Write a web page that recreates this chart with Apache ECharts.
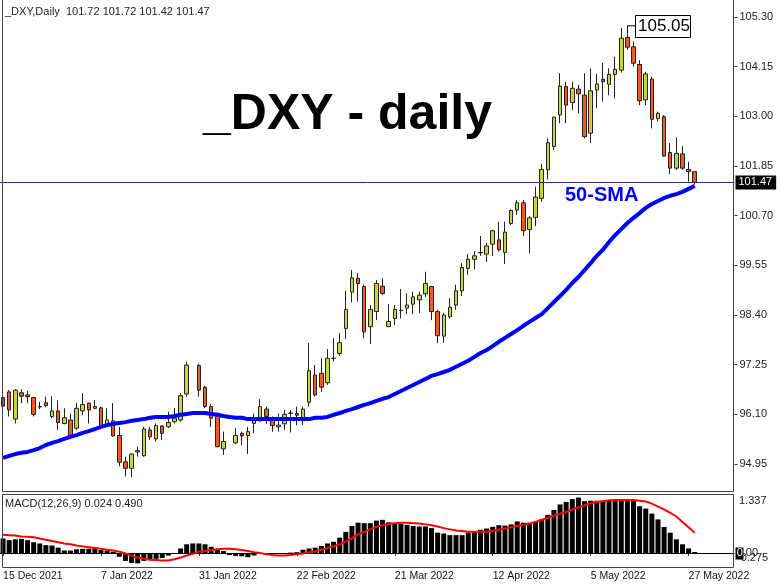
<!DOCTYPE html>
<html>
<head>
<meta charset="utf-8">
<script src="https://cdn.jsdelivr.net/npm/echarts@6/dist/echarts.min.js"></script>
<style>
  html, body { margin: 0; padding: 0; background: #fff; }
  #chart { width: 782px; height: 587px; }
</style>
</head>
<body>
<div id="chart"></div>
<script>
// ---- Daily _DXY bars (null = no bar drawn) ----
const opens = [
  96.49,96.62,95.99,96.60,96.55,96.49,96.28,96.37,96.05,96.18,
  95.89,95.97,95.78,96.18,96.36,96.24,96.25,95.85,95.95,95.61,
  95.00,94.85,95.23,95.14,95.74,95.53,95.83,95.81,95.93,95.97,
  96.57,null,97.23,96.73,96.28,96.05,95.30,null,95.44,95.66,
  95.61,95.89,95.95,96.22,95.97,95.81,95.88,96.12,96.12,96.02,
  96.38,97.01,97.05,96.83,97.39,97.51,98.09,98.93,99.25,99.06,
  98.13,98.48,99.07,98.13,98.32,98.50,98.56,98.65,98.75,98.89,
  99.06,98.48,97.91,98.36,98.63,98.96,99.48,99.69,99.84,99.81,
  100.04,100.14,99.85,100.52,100.83,101.00,100.38,100.66,101.10,101.76,
  102.30,103.03,103.69,103.32,103.63,103.49,102.61,103.61,103.86,103.74,
  103.97,104.07,104.83,104.61,104.20,103.38,103.86,102.95,102.99,102.16,
  101.80,102.13,101.77,101.72
];
const highs = [
  96.93,96.66,96.68,96.68,96.65,96.50,96.39,96.51,96.52,96.42,
  96.24,96.12,96.36,96.59,96.37,96.43,96.28,96.24,96.36,95.81,
  95.12,95.20,95.35,95.81,95.81,95.89,95.85,96.16,96.25,96.59,
  97.32,null,97.27,96.76,96.34,96.14,95.70,null,95.78,95.70,
  95.81,96.12,96.45,96.28,96.05,96.12,96.20,96.20,96.28,96.28,
  97.75,97.24,97.40,97.61,97.86,97.98,98.96,99.44,99.37,99.10,
  98.63,99.21,99.25,98.65,98.63,99.00,98.90,98.94,98.94,99.40,
  99.07,98.52,98.45,98.79,99.10,99.60,99.81,99.88,100.23,100.07,
  100.37,100.56,100.56,100.85,101.06,101.06,100.69,101.37,101.90,102.49,
  102.99,104.00,103.80,103.80,103.73,104.00,104.11,103.98,104.24,104.11,
  104.38,105.05,104.92,104.73,104.30,104.03,103.92,103.11,103.03,102.38,
  102.51,102.31,101.95,101.72
];
const lows = [
  96.27,96.05,95.89,96.36,96.36,96.05,96.22,96.27,96.01,95.74,
  95.87,95.57,95.74,96.08,95.89,96.22,95.81,95.81,95.58,94.90,
  94.66,94.64,95.12,95.12,95.51,95.47,95.51,95.78,95.89,95.93,
  96.51,null,96.51,96.24,95.81,95.34,95.16,null,95.41,95.39,
  95.18,95.66,95.93,95.88,95.70,95.70,95.74,95.68,95.85,95.85,
  96.28,96.51,96.62,96.78,97.32,97.45,97.84,98.69,98.71,97.86,
  97.73,98.28,98.86,98.12,98.17,98.32,98.42,98.42,98.44,98.82,
  98.28,97.75,97.76,98.32,98.52,98.84,99.33,99.46,99.77,99.63,
  99.77,99.87,99.58,100.48,100.72,100.23,99.83,100.46,101.02,101.54,
  102.22,102.84,102.84,103.15,103.07,102.49,102.38,103.19,103.34,103.49,
  103.42,104.01,104.54,104.15,103.26,103.26,102.72,102.88,102.07,101.67,
  101.76,101.76,101.49,101.42
];
const closes = [
  96.29,96.20,96.66,96.52,96.51,96.10,96.27,96.30,96.18,95.91,
  96.02,95.60,96.24,96.33,96.20,96.28,95.84,95.97,95.60,94.99,
  94.85,95.18,95.26,95.76,95.58,95.84,95.66,95.91,96.01,96.53,
  97.24,null,96.66,96.28,96.01,95.35,95.47,null,95.61,95.60,
  95.70,95.97,96.28,96.05,95.84,95.85,96.10,96.13,96.08,96.22,
  97.11,96.55,96.73,97.40,97.40,97.76,98.53,99.26,99.13,98.01,
  98.53,99.13,98.90,98.25,98.53,98.51,98.63,98.82,98.86,99.13,
  98.48,97.92,98.40,98.58,98.96,99.50,99.69,99.77,99.85,100.00,
  100.35,99.91,100.32,100.82,101.00,100.35,100.65,101.13,101.77,102.39,
  102.98,103.70,103.26,103.65,103.52,102.53,103.59,103.75,103.80,103.97,
  104.09,104.81,104.60,104.23,103.36,103.98,102.93,103.07,102.08,101.80,
  102.14,101.80,101.72,101.47
];

// 50-period simple moving average
const sma50 = [
  95.09,95.14,95.18,95.21,95.23,95.27,95.32,95.39,95.44,95.48,
  95.53,95.58,95.62,95.67,95.71,95.76,95.81,95.85,95.88,95.90,
  95.92,95.95,95.97,95.99,96.02,96.04,96.04,96.04,96.06,96.09,
  96.11,96.13,96.13,96.13,96.11,96.09,96.06,96.04,96.02,96.02,
  95.99,95.99,95.99,95.99,95.99,95.99,95.99,95.99,95.99,95.99,
  95.99,96.02,96.02,96.04,96.09,96.13,96.18,96.22,96.27,96.32,
  96.36,96.41,96.46,96.50,96.57,96.64,96.71,96.78,96.85,96.92,
  96.99,97.03,97.08,97.13,97.20,97.27,97.34,97.43,97.52,97.59,
  97.68,97.78,97.87,97.96,98.05,98.15,98.24,98.33,98.42,98.56,
  98.70,98.84,98.98,99.14,99.28,99.44,99.60,99.77,99.91,100.09,
  100.25,100.39,100.53,100.65,100.76,100.88,100.97,101.04,101.11,101.16,
  101.20,101.25,101.32,101.39
];

// MACD(12,26,9): main line (histogram) and signal line
const macdMain = [
  0.35,0.31,0.33,0.34,0.31,0.26,0.23,0.19,0.18,0.13,
  0.06,0.06,0.09,0.10,0.10,0.10,0.07,0.06,0.03,-0.09,
  -0.19,-0.24,-0.25,-0.19,-0.17,-0.14,-0.12,-0.06,-0.02,0.11,
  0.21,0.23,0.23,0.21,0.15,0.08,0.05,-0.05,-0.07,-0.08,
  -0.10,-0.06,-0.02,-0.01,-0.02,-0.01,0.00,0.01,0.02,0.08,
  0.11,0.13,0.17,0.23,0.27,0.37,0.51,0.65,0.73,0.72,
  0.72,0.78,0.80,0.74,0.72,0.70,0.68,0.65,0.64,0.64,
  0.60,0.49,0.47,0.43,0.43,0.43,0.49,0.52,0.56,0.59,
  0.63,0.67,0.66,0.69,0.76,0.73,0.73,0.76,0.81,0.92,
  1.04,1.17,1.23,1.30,1.337,1.25,1.26,1.26,1.26,1.26,
  1.28,1.30,1.26,1.25,1.13,1.07,0.95,0.81,0.63,0.49,
  0.33,0.21,0.11,0.024
];
const macdSignal = [
  0.44,0.43,0.42,0.40,0.39,0.38,0.35,0.32,0.29,0.26,
  0.23,0.21,0.18,0.16,0.14,0.12,0.10,0.08,0.06,0.03,
  -0.01,-0.06,-0.11,-0.14,-0.16,-0.17,-0.18,-0.18,-0.15,-0.11,
  -0.06,-0.02,0.03,0.05,0.07,0.09,0.10,0.10,0.09,0.07,
  0.05,0.02,0.00,-0.03,-0.05,-0.06,-0.06,-0.05,-0.03,-0.01,
  0.02,0.04,0.08,0.12,0.16,0.21,0.28,0.36,0.45,0.51,
  0.57,0.63,0.67,0.70,0.72,0.73,0.73,0.72,0.71,0.69,
  0.67,0.64,0.60,0.57,0.54,0.53,0.51,0.51,0.51,0.51,
  0.53,0.56,0.59,0.62,0.65,0.68,0.71,0.75,0.80,0.85,
  0.90,0.95,0.99,1.05,1.10,1.15,1.20,1.23,1.25,1.27,
  1.28,1.28,1.28,1.28,1.26,1.24,1.19,1.12,1.05,0.97,
  0.88,0.75,0.62,0.49
];

// Axis ticks
const priceTicks = [94.95, 96.10, 97.25, 98.40, 99.55, 100.70, 101.85, 103.00, 104.15, 105.30];
const dateTicks = ['15 Dec 2021', '7 Jan 2022', '31 Jan 2022', '22 Feb 2022',
                   '21 Mar 2022', '12 Apr 2022', '5 May 2022', '27 May 2022'];
const TICK_STEP = 16;               // bars between date labels
const macdScaleLabels = [1.337, -0.275];
const peakPrice = 105.05;

// ---- layout ----
const FONT = "'Liberation Sans', Arial, sans-serif";
const SLOTS = 120;                  // bar slots incl. empty space on the right
const PLOT_W = 734.5;
const cats = Array.from({ length: SLOTS }, (_, i) => String(i));
const last = closes.length - 1;

const candleData = opens.map((o, i) =>
  o == null ? '-' : [o, closes[i], lows[i], highs[i]]);

const showDateTick = (idx) => idx % TICK_STEP === 0 && idx / TICK_STEP < dateTicks.length;

const chart = echarts.init(document.getElementById('chart'), null, { renderer: 'canvas' });

const option = {
  animation: false,
  backgroundColor: '#ffffff',
  textStyle: { fontFamily: FONT },
  grid: [
    { left: 0, top: 2, width: PLOT_W, height: 489 },
    { left: 0, top: 494, width: PLOT_W, height: 73 }
  ],
  xAxis: [
    {
      gridIndex: 0, type: 'category', data: cats, boundaryGap: true,
      axisLine: { show: false }, axisTick: { show: false },
      axisLabel: { show: false }, splitLine: { show: false }
    },
    {
      gridIndex: 1, type: 'category', data: cats, boundaryGap: true,
      axisLine: { show: false },
      axisTick: { show: true, alignWithLabel: true, interval: showDateTick, length: 3,
                  lineStyle: { color: '#333', width: 1 } },
      axisLabel: {
        interval: showDateTick,
        formatter: (v, idx) => dateTicks[idx / TICK_STEP] || '',
        align: 'left', margin: 4, fontSize: 10.5, color: '#111', fontFamily: FONT
      },
      splitLine: { show: false }
    }
  ],
  yAxis: [
    {
      gridIndex: 0, type: 'value', position: 'right',
      min: 94.325, max: 105.647,
      axisLine: { show: false },
      axisTick: { show: true, customValues: priceTicks, length: 3,
                  lineStyle: { color: '#333' } },
      axisLabel: { customValues: priceTicks, formatter: (v) => v.toFixed(2),
                   margin: 5, fontSize: 11, color: '#222', fontFamily: FONT },
      splitLine: { show: false }
    },
    {
      gridIndex: 1, type: 'value', position: 'right',
      min: -0.337, max: 1.422,
      axisLine: { show: false }, axisTick: { show: false },
      axisLabel: { show: false }, splitLine: { show: false }
    }
  ],
  series: [
    {
      name: '_DXY', type: 'candlestick', xAxisIndex: 0, yAxisIndex: 0,
      data: candleData, barWidth: 4,
      itemStyle: {
        color: '#c9d631', color0: '#f25a1e',
        borderColor: '#222', borderColor0: '#222', borderWidth: 1
      },
      markLine: {
        silent: true, symbol: ['none', 'none'],
        lineStyle: { color: '#2a2a8c', width: 1, type: 'solid' },
        label: {
          show: true, position: 'end', distance: 1,
          formatter: () => closes[last].toFixed(2),
          backgroundColor: '#000', color: '#fff', fontSize: 11, fontFamily: FONT,
          padding: [2, 4, 1, 3]
        },
        data: [{ yAxis: closes[last] }]
      }
    },
    {
      name: '50-SMA', type: 'line', xAxisIndex: 0, yAxisIndex: 0,
      data: sma50, showSymbol: false, symbol: 'none', smooth: false,
      lineStyle: { color: '#0000ff', width: 4 }, z: 5
    },
    {
      name: 'MACD', type: 'bar', xAxisIndex: 1, yAxisIndex: 1,
      data: macdMain, barWidth: 5,
      itemStyle: { color: '#000' },
      markLine: {
        silent: true, symbol: ['none', 'none'],
        lineStyle: { color: '#000', width: 1, type: 'solid' },
        label: { show: false },
        data: [{ yAxis: 0 }]
      }
    },
    {
      name: 'Signal', type: 'line', xAxisIndex: 1, yAxisIndex: 1,
      data: macdSignal, showSymbol: false, symbol: 'none', smooth: false,
      lineStyle: { color: '#ff0000', width: 2 }, z: 5
    }
  ]
};

chart.setOption(option);

// ---- frames, captions and annotations ----
const els = [];
function line(x1, y1, x2, y2, color, w, z) {
  els.push({ type: 'line', silent: true, z: z || 20,
    shape: { x1, y1, x2, y2 }, style: { stroke: color, lineWidth: w || 1 } });
}
function text(str, x, y, font, fill, z) {
  els.push({ type: 'text', silent: true, z: z || 30,
    style: { text: str, x, y, font, fill,
             align: 'left', verticalAlign: 'middle',
             textAlign: 'left', textVerticalAlign: 'middle' } });
}
function rect(x, y, w, h, fill, stroke, z) {
  els.push({ type: 'rect', silent: true, z: z || 25,
    shape: { x, y, width: w, height: h },
    style: { fill, stroke: stroke || null, lineWidth: stroke ? 1 : 0 } });
}

const frame = '#444';
// price panel
line(2.5, 0, 2.5, 491.5, frame);
line(2.5, 491.5, 733.5, 491.5, frame);
line(733.5, 0, 733.5, 491.5, frame);
// MACD panel
line(2.5, 494.5, 733.5, 494.5, frame);
line(2.5, 494.5, 2.5, 567.5, frame);
line(2.5, 567.5, 733.5, 567.5, frame);
line(733.5, 494.5, 733.5, 567.5, frame);

// captions
text(`_DXY,Daily  ${opens[last].toFixed(2)} ${highs[last].toFixed(2)} ${lows[last].toFixed(2)} ${closes[last].toFixed(2)}`,
     5, 12, `11px ${FONT}`, '#222');
text('_DXY - daily', 203, 115, `bold 50px ${FONT}`, '#000');
text('50-SMA', 565, 195, `bold 20px ${FONT}`, '#0000ff');
text(`MACD(12,26,9) ${macdMain[last].toFixed(3)} ${macdSignal[last].toFixed(3)}`,
     5, 503.5, `11px ${FONT}`, '#222');

// peak price tag
const toPx = (g, x, y) => chart.convertToPixel({ gridIndex: g }, [x, y]);
const [hx, hy] = toPx(0, 102, highs[102]);
const [, py] = toPx(0, 102, peakPrice);
els.push({ type: 'polyline', silent: true, z: 30,
  shape: { points: [[Math.round(hx) + 0.5, hy], [Math.round(hx) + 0.5, py - 2], [Math.round(hx) + 9, py - 2]] },
  style: { stroke: '#000', lineWidth: 1, fill: null } });
rect(Math.round(hx) + 8.5, Math.round(py) - 12.5, 55, 22, '#fff', '#000', 30);
text(peakPrice.toFixed(2), Math.round(hx) + 11, py - 1, `17px ${FONT}`, '#000', 31);

// MACD scale labels
const [, yMax] = toPx(1, 0, macdScaleLabels[0]);
const [, yMin] = toPx(1, 0, macdScaleLabels[1]);
const [, yZero] = toPx(1, 0, 0);
text(macdScaleLabels[0].toFixed(3), 739, yMax + 3, `11px ${FONT}`, '#222');
text(macdScaleLabels[1].toFixed(3), 737, yMin - 6, `11px ${FONT}`, '#222');
text('0.00', 736.7, yZero, `11px ${FONT}`, '#222', 32);
rect(735.5, yZero - 5.5, 8, 12, '#000', null, 33);
text('0', 736.7, yZero, `11px ${FONT}`, '#fff', 34);

chart.setOption({ graphic: { elements: els } });
</script>
</body>
</html>
